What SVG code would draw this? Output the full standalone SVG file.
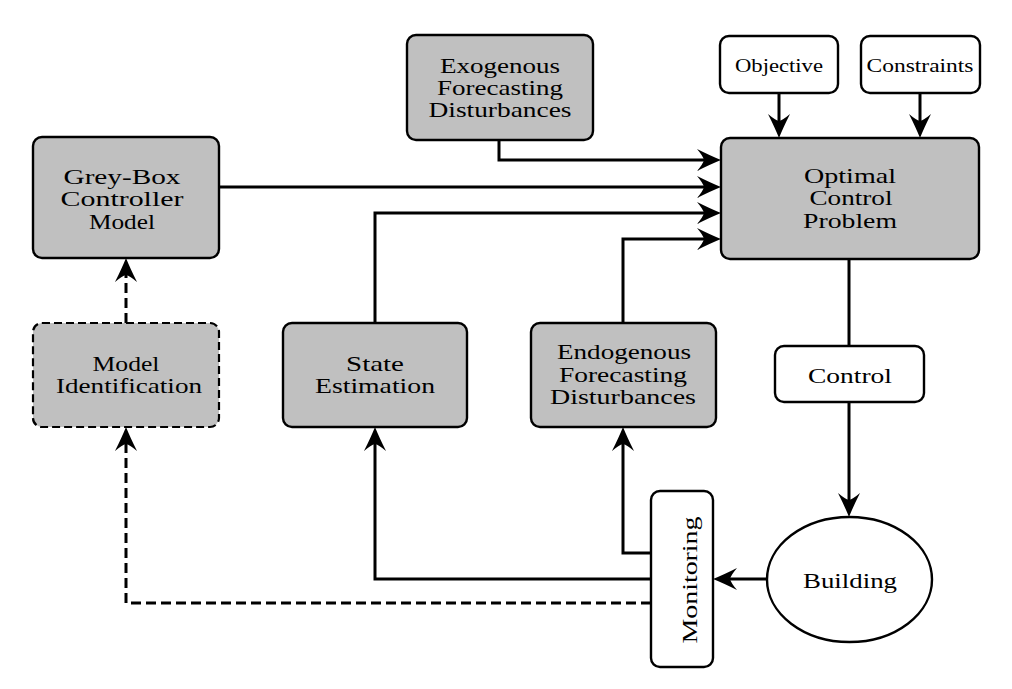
<svg xmlns="http://www.w3.org/2000/svg" width="1012" height="689" viewBox="0 0 1012 689">
<defs>
<style>
.box{fill:#c0c0c0;stroke:#000;stroke-width:2.4}
.wbox{fill:#fff;stroke:#000;stroke-width:2.4}
.dbox{fill:#c0c0c0;stroke:#000;stroke-width:2.2;stroke-dasharray:8 4}
text{font-family:'Liberation Serif','Times New Roman',serif;text-anchor:middle;fill:#000}
.t{font-size:21px}
.ts{font-size:18px}
.c{fill:none;stroke:#000;stroke-width:3}
.cd{fill:none;stroke:#000;stroke-width:3;stroke-dasharray:10 5}
</style>
<marker id="ah" markerUnits="userSpaceOnUse" markerWidth="40" markerHeight="40" viewBox="-20 -20 40 40" refX="0" refY="0" orient="auto">
<path d="M10,0 Q0,-4 -14,-11 Q-8,-4 -7,0 Q-8,4 -14,11 Q0,4 10,0 Z" fill="#000"/>
</marker>
</defs>
<rect width="1012" height="689" fill="#fff"/>
<g id="connectors">
<path class="c" d="M499,140 V160 H711" marker-end="url(#ah)"/>
<path class="c" d="M219,187 H711" marker-end="url(#ah)"/>
<path class="c" d="M375,323 V213 H711" marker-end="url(#ah)"/>
<path class="c" d="M623,323 V239 H711" marker-end="url(#ah)"/>
<path class="c" d="M779,93 V128" marker-end="url(#ah)"/>
<path class="c" d="M920,93 V128" marker-end="url(#ah)"/>
<path class="c" d="M849,259 V346"/>
<path class="c" d="M849,402 V507" marker-end="url(#ah)"/>
<path class="c" d="M767,579 H723" marker-end="url(#ah)"/>
<path class="c" d="M651,579 H375 V437" marker-end="url(#ah)"/>
<path class="c" d="M651,553 H623 V437" marker-end="url(#ah)"/>
<path class="cd" d="M651,603 H126 V437" marker-end="url(#ah)"/>
<path class="cd" d="M126,323 V268" marker-end="url(#ah)"/>
</g>
<g id="exogenous">
<rect class="box" x="407" y="35" width="186" height="105" rx="9"/>
<text class="t" x="500" y="73" textLength="120" lengthAdjust="spacingAndGlyphs">Exogenous</text>
<text class="t" x="500" y="95" textLength="126" lengthAdjust="spacingAndGlyphs">Forecasting</text>
<text class="t" x="500" y="117" textLength="143" lengthAdjust="spacingAndGlyphs">Disturbances</text>
</g>
<g id="objective">
<rect class="wbox" x="720" y="36" width="118" height="57" rx="9"/>
<text class="ts" x="779" y="72" textLength="88" lengthAdjust="spacingAndGlyphs">Objective</text>
</g>
<g id="constraints">
<rect class="wbox" x="861" y="36" width="119" height="57" rx="9"/>
<text class="ts" x="920" y="72" textLength="107" lengthAdjust="spacingAndGlyphs">Constraints</text>
</g>
<g id="optimal">
<rect class="box" x="721" y="138" width="258" height="121" rx="9"/>
<text class="t" x="850" y="183" textLength="92" lengthAdjust="spacingAndGlyphs">Optimal</text>
<text class="t" x="851" y="205" textLength="83" lengthAdjust="spacingAndGlyphs">Control</text>
<text class="t" x="850" y="228" textLength="94" lengthAdjust="spacingAndGlyphs">Problem</text>
</g>
<g id="greybox">
<rect class="box" x="33" y="137" width="186" height="121" rx="9"/>
<text class="t" x="122" y="184" textLength="117" lengthAdjust="spacingAndGlyphs">Grey-Box</text>
<text class="t" x="122" y="206" textLength="123" lengthAdjust="spacingAndGlyphs">Controller</text>
<text class="t" x="122" y="229" textLength="66" lengthAdjust="spacingAndGlyphs">Model</text>
</g>
<g id="modelid">
<rect class="dbox" x="33" y="323" width="186" height="104" rx="9"/>
<text class="t" x="126" y="371" textLength="67" lengthAdjust="spacingAndGlyphs">Model</text>
<text class="t" x="129" y="393" textLength="146" lengthAdjust="spacingAndGlyphs">Identification</text>
</g>
<g id="state">
<rect class="box" x="283" y="323" width="184" height="104" rx="9"/>
<text class="t" x="375" y="371" textLength="58" lengthAdjust="spacingAndGlyphs">State</text>
<text class="t" x="375" y="393" textLength="120" lengthAdjust="spacingAndGlyphs">Estimation</text>
</g>
<g id="endogenous">
<rect class="box" x="531" y="323" width="185" height="104" rx="9"/>
<text class="t" x="624" y="359" textLength="134" lengthAdjust="spacingAndGlyphs">Endogenous</text>
<text class="t" x="623" y="382" textLength="128" lengthAdjust="spacingAndGlyphs">Forecasting</text>
<text class="t" x="623" y="404" textLength="146" lengthAdjust="spacingAndGlyphs">Disturbances</text>
</g>
<g id="control">
<rect class="wbox" x="775" y="346" width="149" height="56" rx="9"/>
<text class="t" x="850" y="383" textLength="84" lengthAdjust="spacingAndGlyphs">Control</text>
</g>
<g id="building">
<ellipse class="wbox" cx="849.5" cy="579.5" rx="82.5" ry="62.5"/>
<text class="t" x="850" y="588" textLength="94" lengthAdjust="spacingAndGlyphs">Building</text>
</g>
<g id="monitoring">
<rect class="wbox" x="651" y="491" width="62" height="176" rx="9"/>
<text class="t" transform="translate(697,580) rotate(-90)" x="0" y="0" textLength="127" lengthAdjust="spacingAndGlyphs">Monitoring</text>
</g>
</svg>
